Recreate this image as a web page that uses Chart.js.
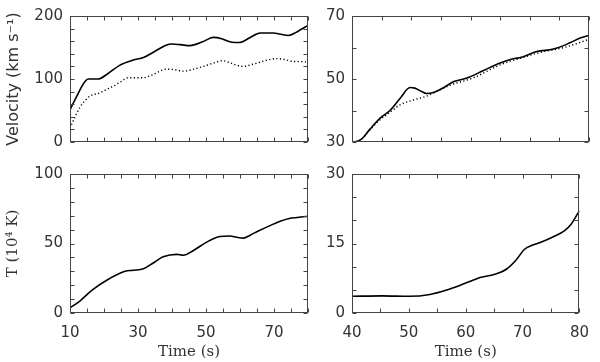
<!DOCTYPE html>
<html>
<head>
<meta charset="utf-8">
<script src="https://cdn.jsdelivr.net/npm/chart.js@4.4.0/dist/chart.umd.min.js"></script>
<style>
  html, body { margin:0; padding:0; background:#fff; }
  #wrap { position:relative; width:600px; height:362px; overflow:hidden; }
  .pan { position:absolute; }
</style>
</head>
<body>
<div id="wrap">
  <canvas class="pan" id="c-vel-a" width="310" height="158" style="left:0;top:0"></canvas>
  <canvas class="pan" id="c-vel-b" width="288" height="158" style="left:312px;top:0"></canvas>
  <canvas class="pan" id="c-tmp-a" width="310" height="204" style="left:0;top:158px"></canvas>
  <canvas class="pan" id="c-tmp-b" width="288" height="204" style="left:312px;top:158px"></canvas>
</div>
<script>
// ---- data ----
// top left: velocity, 10-80 s
const velA_solidT = [10, 12, 14.4, 15.4, 18.3, 21, 24.7, 28.6, 31.6, 35, 38.4, 39.9, 42.5, 45.3, 49, 52.1, 54.6, 56.5, 58.5, 60, 63, 65.9, 69.8, 72, 74.2, 76.5, 78, 80];
const velA_solid  = [51, 73, 96, 100, 100, 108, 122, 130, 134, 144, 154, 155.5, 154.5, 153, 159, 166, 164, 160, 158, 158, 166, 173, 173, 171, 169, 174, 179, 185];
const velA_dotT   = [10, 11.5, 12.9, 14.5, 15.9, 18.8, 21, 23.2, 25, 27.2, 29.5, 31.6, 34, 38.4, 40.5, 43.3, 46, 49.2, 52, 54.9, 57, 59, 61, 63.5, 65.9, 68, 70.8, 73, 75.5, 77.6, 80];
const velA_dot    = [22, 40, 55, 66, 73, 78, 84, 90, 96, 102, 102, 102, 106, 115.6, 115, 112.5, 115, 120, 125, 129, 126, 122, 120, 123, 126.7, 130, 132.4, 131, 128, 127.6, 127];

// top right: velocity, 40-80 s
const velB_solidT = [40, 41, 41.6, 43, 44.7, 46.4, 48.1, 49.8, 50.6, 51.6, 52.6, 53.7, 55.5, 57.1, 59.4, 62.2, 65, 67.2, 68.6, 71.2, 74, 76.8, 78.5, 80];
const velB_solid  = [30, 30.3, 30.9, 34, 37.5, 40, 43.8, 47.3, 47.1, 46.2, 45.4, 45.7, 47.3, 49.1, 50.3, 52.7, 55.1, 56.4, 56.9, 58.7, 59.5, 61.5, 63, 63.8];
const velB_dotT   = [40, 41, 41.6, 43, 44.7, 46.4, 48.1, 50.3, 52.6, 56.5, 60.5, 65, 68.6, 71.7, 76.2, 80];
const velB_dot    = [30, 30.3, 30.9, 33.8, 37, 39.4, 41.8, 43.3, 44.6, 48, 50.4, 54.5, 56.7, 58.4, 60.2, 62.6];

// bottom left: temperature, 10-80 s
const tmpA_t   = [10, 12.9, 16.4, 20.8, 26.2, 28.6, 31.6, 34.5, 37.4, 41.4, 43.3, 46.3, 50.2, 54.1, 57.1, 59, 61, 63, 65.4, 68.5, 71.8, 74.5, 76.7, 78.5, 80];
const tmpA_val = [3.8, 8.6, 16.3, 23.6, 30, 30.7, 31.8, 36, 40.4, 42.2, 41.5, 45, 51, 55, 55.4, 54.5, 53.9, 56, 59, 62.5, 66, 68, 68.7, 69.3, 69.5];

// bottom right: temperature, 40-80 s
const tmpB_t   = [40, 45.3, 50.1, 53.7, 56.5, 59.9, 62.7, 65, 67.2, 68.9, 70.3, 71.7, 73.1, 75.5, 77.4, 78.5, 80];
const tmpB_val = [3.6, 3.7, 3.6, 4.0, 4.9, 6.4, 7.7, 8.3, 9.5, 11.5, 13.7, 14.6, 15.2, 16.5, 17.8, 19.1, 22.1];

// tick labels
const xTicksA  = [10, 30, 50, 70];
const xTicksB  = [40, 50, 60, 70, 80];
const yTicksVA = [0, 100, 200];
const yTicksVB = [30, 50, 70];
const yTicksTA = [0, 50, 100];
const yTicksTB = [0, 15, 30];

const INK = '#333';
const NUM_FONT = { family: 'DejaVu Sans', size: 15 };
const SANS_TITLE = { family: 'DejaVu Sans', size: 16 };
const SERIF_TITLE = { family: 'DejaVu Serif', size: 15 };

const pts = (t, v) => t.map((x, i) => ({ x, y: v[i] }));

// box frame with small inward ticks on all four sides (IDL look)
const frameTicks = {
  id: 'frameTicks',
  afterDraw(chart, args, o) {
    const { ctx, chartArea: a, scales: { x, y } } = chart;
    const L = Math.round(a.left) + 0.5, R = Math.round(a.right) - 0.5;
    const T = Math.round(a.top) + 0.5, B = Math.round(a.bottom) - 0.5;
    ctx.save();
    ctx.strokeStyle = '#444';
    ctx.lineWidth = 1;
    ctx.strokeRect(L, T, R - L, B - T);
    ctx.beginPath();
    for (let v = x.min; v <= x.max + 1e-9; v += o.xStep) {
      const p = Math.round(x.getPixelForValue(v)) + 0.5;
      ctx.moveTo(p, B); ctx.lineTo(p, B - 4);
      ctx.moveTo(p, T); ctx.lineTo(p, T + 4);
    }
    for (let v = y.min; v <= y.max + 1e-9; v += o.yStep) {
      const p = Math.round(y.getPixelForValue(v)) + 0.5;
      ctx.moveTo(L, p); ctx.lineTo(L + 4, p);
      ctx.moveTo(R, p); ctx.lineTo(R - 4, p);
    }
    ctx.stroke();
    ctx.restore();
  }
};

function solid(data) {
  return { data, borderColor: '#000', borderWidth: 1.6, pointRadius: 0, cubicInterpolationMode: 'monotone', fill: false };
}
function dotted(data) {
  return { data, borderColor: '#000', borderWidth: 1.4, borderDash: [1.2, 2.4], pointRadius: 0, cubicInterpolationMode: 'monotone', fill: false };
}

function panel(id, o) {
  new Chart(document.getElementById(id), {
    type: 'line',
    data: { datasets: o.sets },
    options: {
      responsive: false, animation: false, events: [],
      layout: { padding: o.pad },
      plugins: {
        legend: { display: false }, tooltip: { enabled: false },
        frameTicks: { xStep: o.xStep, yStep: o.yStep }
      },
      scales: {
        x: {
          type: 'linear', min: o.xMin, max: o.xMax,
          grid: { display: false, drawTicks: false }, border: { display: false },
          afterBuildTicks: s => { s.ticks = o.xTicks.map(v => ({ value: v })); },
          afterFit: s => { s.height = o.xH; },
          ticks: { display: o.xLabels, padding: 11, font: NUM_FONT, color: INK, autoSkip: false, maxRotation: 0 },
          title: { display: !!o.xTitle, text: o.xTitle || '', font: SERIF_TITLE, color: INK, padding: { top: 0, bottom: 1 } }
        },
        y: {
          type: 'linear', min: o.yMin, max: o.yMax,
          grid: { display: false, drawTicks: false }, border: { display: false },
          afterBuildTicks: s => { s.ticks = o.yTicks.map(v => ({ value: v })); },
          afterFit: s => { s.width = o.yW; },
          ticks: { padding: 7, font: NUM_FONT, color: INK, autoSkip: false },
          title: { display: !!o.yTitle, text: o.yTitle || '', font: o.yFont || SANS_TITLE, color: INK, padding: { top: 4, bottom: 0 } }
        }
      }
    },
    plugins: [frameTicks]
  });
}

panel('c-vel-a', {
  sets: [solid(pts(velA_solidT, velA_solid)), dotted(pts(velA_dotT, velA_dot))],
  pad: { top: 5, right: 2, bottom: 4, left: 0 },
  xMin: 10, xMax: 80, xTicks: xTicksA, xStep: 5, xLabels: false, xH: 0,
  yMin: 0, yMax: 200, yTicks: yTicksVA, yStep: 20, yW: 70,
  yTitle: 'Velocity (km s\u207B\u00B9)'
});
panel('c-vel-b', {
  sets: [solid(pts(velB_solidT, velB_solid)), dotted(pts(velB_dotT, velB_dot))],
  pad: { top: 5, right: 11, bottom: 4, left: 0 },
  xMin: 40, xMax: 80, xTicks: xTicksB, xStep: 5, xLabels: false, xH: 0,
  yMin: 30, yMax: 70, yTicks: yTicksVB, yStep: 10, yW: 40
});
panel('c-tmp-a', {
  sets: [solid(pts(tmpA_t, tmpA_val))],
  pad: { top: 4, right: 2, bottom: 0, left: 0 },
  xMin: 10, xMax: 80, xTicks: xTicksA, xStep: 5, xLabels: true, xH: 49, xTitle: 'Time (s)',
  yMin: 0, yMax: 100, yTicks: yTicksTA, yStep: 10, yW: 70,
  yTitle: 'T (10\u2074 K)', yFont: SERIF_TITLE
});
panel('c-tmp-b', {
  sets: [solid(pts(tmpB_t, tmpB_val))],
  pad: { top: 4, right: 11, bottom: 0, left: 0 },
  xMin: 40, xMax: 80, xTicks: xTicksB, xStep: 5, xLabels: true, xH: 49, xTitle: 'Time (s)',
  yMin: 0, yMax: 30, yTicks: yTicksTB, yStep: 5, yW: 40
});
</script>
</body>
</html>
